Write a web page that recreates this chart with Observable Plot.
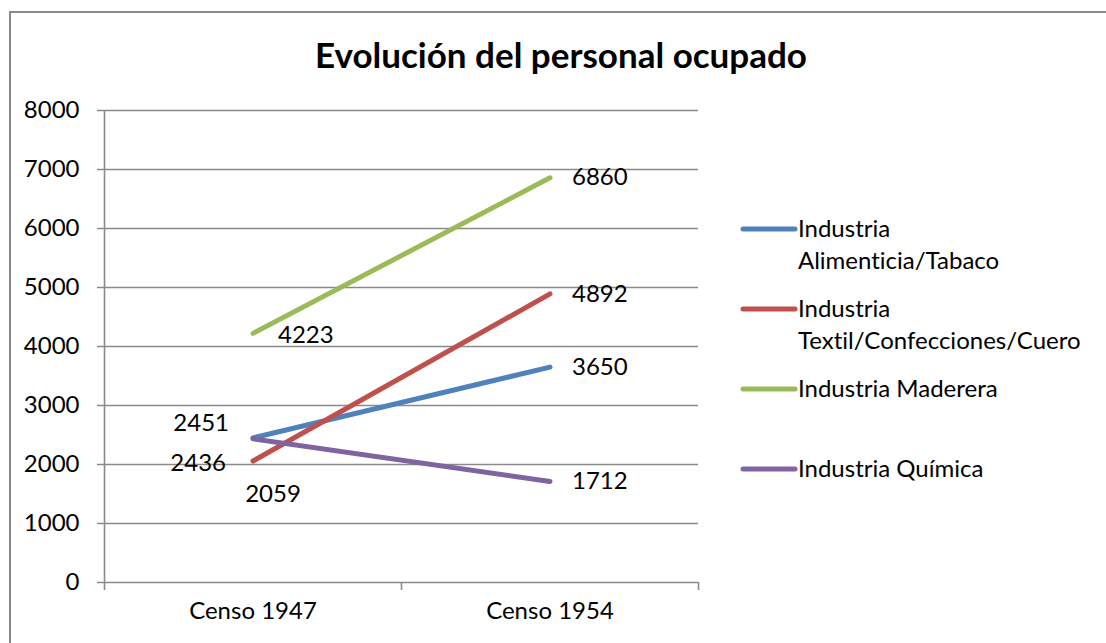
<!DOCTYPE html>
<html>
<head>
<meta charset="utf-8">
<script src="https://cdn.jsdelivr.net/npm/d3@7"></script>
<script src="https://cdn.jsdelivr.net/npm/@observablehq/plot@0.6"></script>
<style>
  html, body { margin: 0; padding: 0; background: #fff; }
  #wrap { position: relative; width: 1106px; height: 643px; overflow: hidden; font-family: Lato, "Open Sans", sans-serif; color: #000; font-variant-ligatures: none; }
  #border { position: absolute; left: 9px; top: 11px; width: 1200px; height: 700px; border-left: 2px solid #8a8a8a; border-top: 2px solid #8a8a8a; box-sizing: border-box; }
  #title { position: absolute; left: 0; width: 1122px; top: 34px; text-align: center; font-weight: bold; font-size: 35px; line-height: 40px; }
  #chart { position: absolute; left: 0; top: 0; }
  #chart svg { font-variant-ligatures: none; }
  .leg { position: absolute; left: 740px; font-size: 24px; line-height: 32px; }
  .leg svg { position: absolute; left: 0; top: 13px; }
  .leg div { position: absolute; left: 58px; top: 0; white-space: nowrap; }
</style>
</head>
<body>
<div id="wrap">
  <div id="border"></div>
  <div id="title">Evolución del personal ocupado</div>
  <div id="chart"></div>
  <div id="legend"></div>
</div>
<script>
const categories = ["Censo 1947", "Censo 1954"];
const series = [
  "Industria Alimenticia/Tabaco",
  "Industria Textil/Confecciones/Cuero",
  "Industria Maderera",
  "Industria Química"
];
const values1947 = [2451, 2059, 4223, 2436];
const values1954 = [3650, 4892, 6860, 1712];
const colors = ["#4F81BD", "#C0504D", "#9BBB59", "#8064A2"];
const yTicks = [0, 1000, 2000, 3000, 4000, 5000, 6000, 7000, 8000];

const data = [];
series.forEach((s, i) => {
  data.push({series: s, cat: 0, value: values1947[i]});
  data.push({series: s, cat: 1, value: values1954[i]});
});
const pos = d => d.cat + 0.5;
const grid = "#8a8a8a";
const fs = 24;

const left = data.filter(d => d.cat === 0);
const right = data.filter(d => d.cat === 1);

const plot = Plot.plot({
  width: 1106,
  height: 643,
  marginLeft: 104,
  marginRight: 408,
  marginTop: 110,
  marginBottom: 61,
  style: {fontFamily: "Lato, 'Open Sans', sans-serif", fontSize: fs + "px", background: "transparent", color: "#000"},
  x: {domain: [0, 2], axis: null},
  y: {domain: [0, 8000], ticks: yTicks, tickSize: 0, tickPadding: 25, tickFormat: d => String(d), label: null},
  color: {domain: series, range: colors},
  marks: [
    Plot.ruleY(yTicks, {stroke: grid, strokeWidth: 1.6, insetLeft: -7}),
    Plot.ruleX([0], {stroke: grid, strokeWidth: 1.6}),
    Plot.ruleX([0, 1, 2], {y1: 0, y2: 0, insetBottom: -8, stroke: grid, strokeWidth: 1.6}),
    Plot.text(categories, {x: (d, i) => i + 0.5, text: d => d, frameAnchor: "bottom", dy: 36, fontSize: fs}),
    Plot.line(data, {x: pos, y: "value", z: "series", stroke: "series", strokeWidth: 5, strokeLinecap: "round", strokeLinejoin: "round"}),
    // labels at 1954: right of point
    Plot.text(right, {x: pos, y: "value", text: d => String(d.value), textAnchor: "start", dx: 22, fontSize: fs}),
    // labels at 1947
    Plot.text(left.filter(d => d.series === series[2]), {x: pos, y: "value", text: d => String(d.value), textAnchor: "start", dx: 25, dy: 2, fontSize: fs}),
    Plot.text(left.filter(d => d.series === series[0]), {x: pos, y: "value", text: d => String(d.value), textAnchor: "end", dx: -24, dy: -15, fontSize: fs}),
    Plot.text(left.filter(d => d.series === series[3]), {x: pos, y: "value", text: d => String(d.value), textAnchor: "end", dx: -27, dy: 25, fontSize: fs}),
    Plot.text(left.filter(d => d.series === series[1]), {x: pos, y: "value", text: d => String(d.value), textAnchor: "middle", dx: 20, dy: 33, fontSize: fs})
  ]
});
document.getElementById("chart").appendChild(plot);

// legend
const legend = document.getElementById("legend");
series.forEach((s, i) => {
  const item = document.createElement("div");
  item.className = "leg";
  item.style.top = (212 + 80 * i) + "px";
  const sw = document.createElementNS("http://www.w3.org/2000/svg", "svg");
  sw.setAttribute("width", 58);
  sw.setAttribute("height", 8);
  const ln = document.createElementNS("http://www.w3.org/2000/svg", "line");
  ln.setAttribute("x1", 3); ln.setAttribute("x2", 55);
  ln.setAttribute("y1", 4); ln.setAttribute("y2", 4);
  ln.setAttribute("stroke", colors[i]);
  ln.setAttribute("stroke-width", 5);
  ln.setAttribute("stroke-linecap", "round");
  sw.appendChild(ln);
  item.appendChild(sw);
  const txt = document.createElement("div");
  const k = s.indexOf(" ");
  if (s.length > 20 && k > 0) {
    txt.appendChild(document.createTextNode(s.slice(0, k)));
    txt.appendChild(document.createElement("br"));
    txt.appendChild(document.createTextNode(s.slice(k + 1)));
  } else {
    txt.textContent = s;
  }
  item.appendChild(txt);
  legend.appendChild(item);
});
</script>
</body>
</html>
